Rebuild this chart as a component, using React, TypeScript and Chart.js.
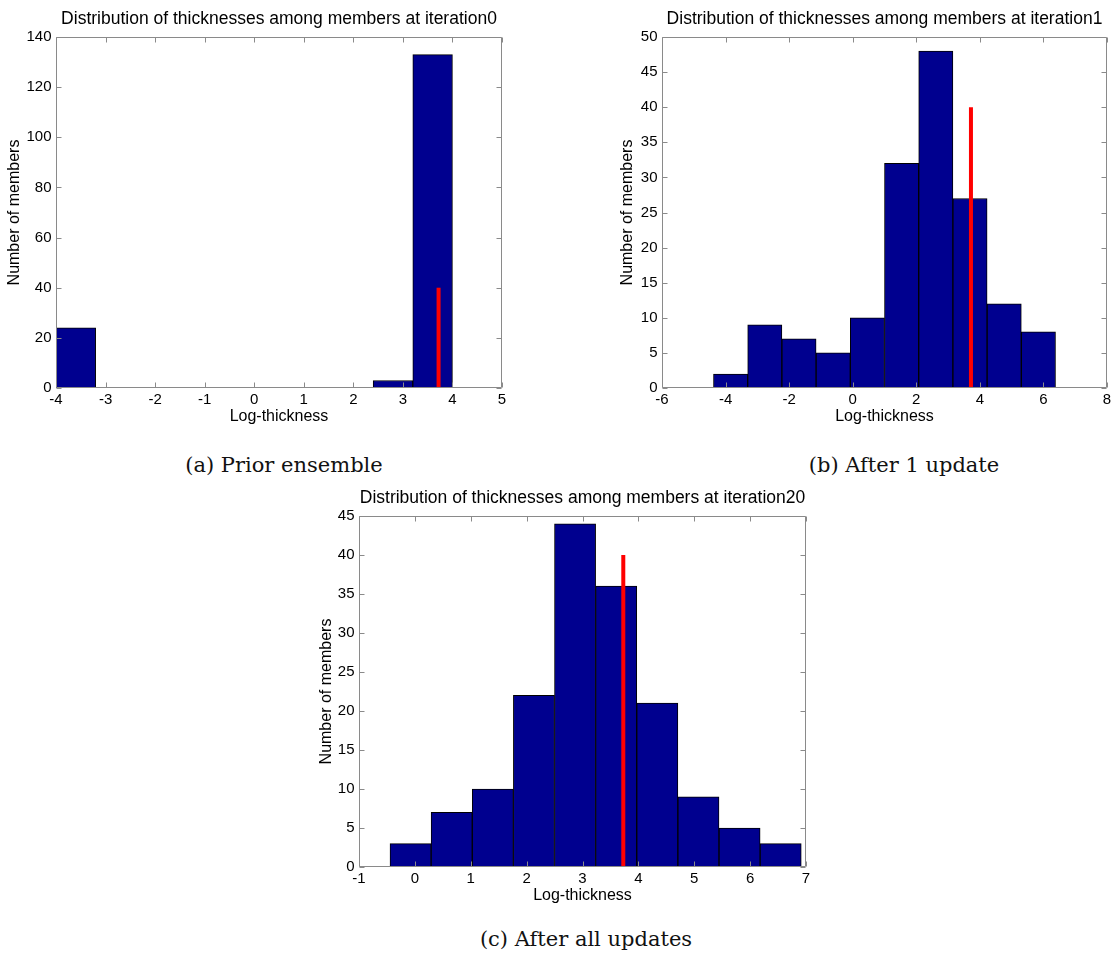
import React, { useEffect, useRef } from "react";
import { Chart, registerables } from "chart.js";

Chart.register(...registerables);

// ---------- data ----------
const titleA = "Distribution of thicknesses among members at iteration0";
const titleB = "Distribution of thicknesses among members at iteration1";
const titleC = "Distribution of thicknesses among members at iteration20";

const captionA = "(a) Prior ensemble";
const captionB = "(b) After 1 update";
const captionC = "(c) After all updates";

const xLabel = "Log-thickness";
const yLabel = "Number of members";

// bin centres (log-thickness) and member counts
const centersA = [-3.6, -2.8, -2.0, -1.2, -0.4, 0.4, 1.2, 2.0, 2.8, 3.6];
const countsA = [24, 0, 0, 0, 0, 0, 0, 0, 3, 133];

const centersB = [-3.842, -2.766, -1.69, -0.614, 0.462, 1.538, 2.614, 3.69, 4.766, 5.842];
const countsB = [2, 9, 7, 5, 10, 32, 48, 27, 12, 8];

const centersC = [-0.077, 0.659, 1.395, 2.131, 2.867, 3.603, 4.339, 5.075, 5.811, 6.547];
const countsC = [3, 7, 10, 22, 44, 36, 21, 9, 5, 3];

// true value marker (red line)
const truthX = [3.72, 3.72, 3.73];
const truthHeight = [40, 40, 40];

// axis ranges / ticks
const xRangeA = [-4, 5];
const xRangeB = [-6, 8];
const xRangeC = [-1, 7];
const xStep = [1, 2, 1];
const yMax = [140, 50, 45];
const yStep = [20, 5, 5];

// ---------- styling ----------
const SANS = "'Liberation Sans', Arial, Helvetica, sans-serif";
const BAR_FILL = "#00008f";
const BOX_COLOR = "#8a8a8a";

const boxPlugin = {
  id: "matlabBox",
  afterDatasetsDraw(chart: any) {
    const { ctx, chartArea } = chart;
    const xs = chart.scales.x;
    const ys = chart.scales.y;
    const l = Math.round(chartArea.left) + 0.5;
    const r = Math.round(chartArea.right) - 0.5;
    const t = Math.round(chartArea.top) + 0.5;
    const b = Math.round(chartArea.bottom) - 0.5;
    const len = 5;
    ctx.save();
    ctx.strokeStyle = BOX_COLOR;
    ctx.lineWidth = 1;
    ctx.beginPath();
    ctx.rect(l, t, r - l, b - t);
    xs.ticks.forEach((tk: any) => {
      const px = Math.round(xs.getPixelForValue(tk.value)) + 0.5;
      ctx.moveTo(px, b);
      ctx.lineTo(px, b - len);
      ctx.moveTo(px, t);
      ctx.lineTo(px, t + len);
    });
    ys.ticks.forEach((tk: any) => {
      const py = Math.round(ys.getPixelForValue(tk.value)) + 0.5;
      ctx.moveTo(l, py);
      ctx.lineTo(l + len, py);
      ctx.moveTo(r, py);
      ctx.lineTo(r - len, py);
    });
    ctx.stroke();
    ctx.restore();
  },
};

type Panel = {
  title: string;
  centers: number[];
  counts: number[];
  truth: number;
  truthH: number;
  xr: number[];
  xs: number;
  ymax: number;
  ys: number;
  yWidth: number;
  padRight: number;
  yTitlePad: number;
};

function HistChart({ p, left, top, width, height }: { p: Panel; left: number; top: number; width: number; height: number }) {
  const ref = useRef<HTMLCanvasElement | null>(null);
  useEffect(() => {
    if (!ref.current) return;
    const chart = new Chart(ref.current, {
      type: "bar",
      data: {
        datasets: [
          {
            type: "line",
            data: [
              { x: p.truth, y: 0 },
              { x: p.truth, y: p.truthH },
            ],
            borderColor: "#ff0000",
            borderWidth: 4,
            borderCapStyle: "butt",
            pointRadius: 0,
            fill: false,
            order: 0,
          } as any,
          {
            type: "bar",
            data: p.centers.map((c, i) => ({ x: c, y: p.counts[i] })),
            backgroundColor: BAR_FILL,
            borderColor: "#000000",
            borderWidth: 1,
            barPercentage: 1,
            categoryPercentage: 1,
            order: 1,
          } as any,
        ],
      },
      options: {
        animation: false,
        responsive: false,
        maintainAspectRatio: false,
        layout: { padding: { left: 0, right: p.padRight, top: 0, bottom: 0 } },
        plugins: {
          legend: { display: false },
          tooltip: { enabled: false },
          title: {
            display: true,
            text: p.title,
            fullSize: false,
            color: "#000",
            font: { family: SANS, size: 17.5, weight: "normal" as any, lineHeight: 1.2 },
            padding: { top: 8.5, bottom: 7.5 },
          },
        },
        scales: {
          x: {
            type: "linear",
            min: p.xr[0],
            max: p.xr[1],
            offset: false,
            grid: { display: false, drawTicks: false },
            border: { display: false },
            ticks: {
              stepSize: p.xs,
              color: "#000",
              autoSkip: false,
              maxRotation: 0,
              padding: 2.5,
              font: { family: SANS, size: 15 },
            },
            title: {
              display: true,
              text: xLabel,
              color: "#000",
              font: { family: SANS, size: 16, lineHeight: 1.2 },
              padding: { top: 0, bottom: 13.4 },
            },
            afterFit: (s: any) => {
              s.height = 52;
            },
          },
          y: {
            type: "linear",
            min: 0,
            max: p.ymax,
            grid: { display: false, drawTicks: false },
            border: { display: false },
            ticks: {
              stepSize: p.ys,
              color: "#000",
              padding: 4.5,
              font: { family: SANS, size: 15 },
            },
            title: {
              display: true,
              text: yLabel,
              color: "#000",
              font: { family: SANS, size: 16, lineHeight: 1.2 },
              padding: { top: p.yTitlePad, bottom: 0 },
            },
            afterFit: (s: any) => {
              s.width = p.yWidth;
            },
          },
        },
      } as any,
      plugins: [boxPlugin],
    });
    return () => chart.destroy();
  }, [p]);
  return (
    <canvas
      ref={ref}
      width={width}
      height={height}
      style={{ position: "absolute", left, top, width, height, display: "block" }}
    />
  );
}

const panelA: Panel = {
  title: titleA, centers: centersA, counts: countsA, truth: truthX[0], truthH: truthHeight[0],
  xr: xRangeA, xs: xStep[0], ymax: yMax[0], ys: yStep[0], yWidth: 56, padRight: 18, yTitlePad: 5.4,
};
const panelB: Panel = {
  title: titleB, centers: centersB, counts: countsB, truth: truthX[1], truthH: truthHeight[1],
  xr: xRangeB, xs: xStep[1], ymax: yMax[1], ys: yStep[1], yWidth: 62, padRight: 8, yTitlePad: 18.4,
};
const panelC: Panel = {
  title: titleC, centers: centersC, counts: countsC, truth: truthX[2], truthH: truthHeight[2],
  xr: xRangeC, xs: xStep[2], ymax: yMax[2], ys: yStep[2], yWidth: 59, padRight: 14, yTitlePad: 17.1,
};

const captionStyle = (cx: number, top: number): React.CSSProperties => ({
  position: "absolute",
  left: cx - 200,
  width: 400,
  top,
  textAlign: "center",
  fontFamily: "'DejaVu Serif', 'Liberation Serif', serif",
  fontSize: 21,
  lineHeight: "21px",
  color: "#111",
  whiteSpace: "nowrap",
});

export default function App() {
  return (
    <div
      style={{
        position: "absolute",
        left: 0,
        top: 0,
        width: 1115,
        height: 955,
        background: "#fff",
        overflow: "hidden",
      }}
    >
      <HistChart p={panelA} left={0} top={0} width={520} height={440} />
      <HistChart p={panelB} left={600} top={0} width={515} height={440} />
      <HistChart p={panelC} left={300} top={479} width={520} height={440} />
      <div style={captionStyle(284, 454.5)}>{captionA}</div>
      <div style={captionStyle(904, 454.5)}>{captionB}</div>
      <div style={captionStyle(586, 929)}>{captionC}</div>
    </div>
  );
}
